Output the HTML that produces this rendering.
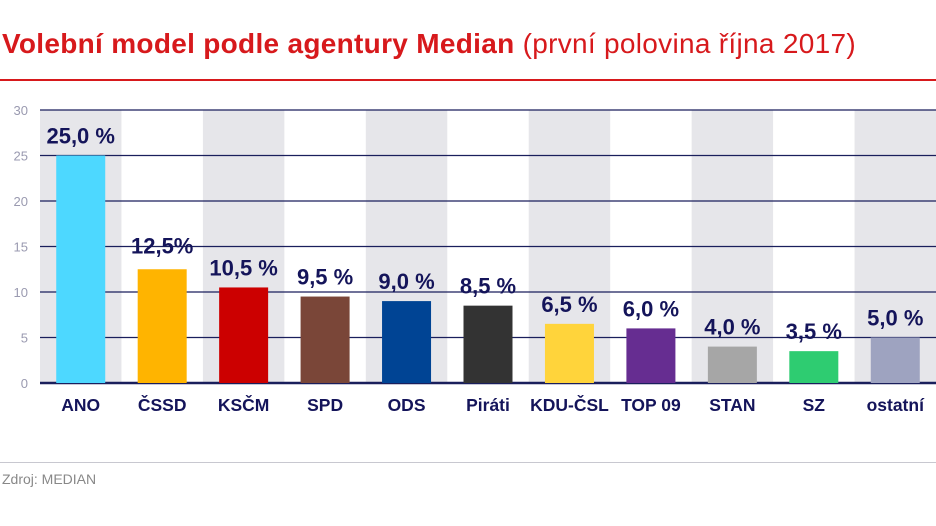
<!DOCTYPE html>
<html><head><meta charset="utf-8"><style>
body{margin:0;width:936px;height:526px;background:#fff;font-family:"Liberation Sans",sans-serif;overflow:hidden;position:relative}
</style></head><body>
<div style="position:absolute;left:2px;top:28px;font-size:28px;color:#d7191c;white-space:nowrap;letter-spacing:0.3px"><b>Volební model podle agentury Median</b> <span style="font-weight:normal">(první polovina října 2017)</span></div>
<div style="position:absolute;left:0;top:79px;width:936px;height:2px;background:#d7191c"></div>
<svg width="936" height="526" style="position:absolute;left:0;top:0" id="c"></svg>
<div style="position:absolute;left:0;top:462px;width:936px;height:1px;background:#c8c8d0"></div>
<div style="position:absolute;left:2px;top:471px;font-size:14px;color:#888">Zdroj: MEDIAN</div>
<script>
const categories=["ANO","ČSSD","KSČM","SPD","ODS","Piráti","KDU-ČSL","TOP 09","STAN","SZ","ostatní"];
const values=[25.0,12.5,10.5,9.5,9.0,8.5,6.5,6.0,4.0,3.5,5.0];
const valueLabels=["25,0 %","12,5%","10,5 %","9,5 %","9,0 %","8,5 %","6,5 %","6,0 %","4,0 %","3,5 %","5,0 %"];
const colors=["#4dd8ff","#ffb400","#cc0000","#7a4638","#004494","#333333","#ffd43b","#662d91","#a6a6a6","#2ecc71","#9ea3c0"];
const yTicks=[0,5,10,15,20,25,30];
const svg=document.getElementById('c');const NS='http://www.w3.org/2000/svg';
const x0=40,x1=936,y0=383,yTop=110,yMax=30;
const bw=(x1-x0)/categories.length;
const y=v=>y0-(v/yMax)*(y0-yTop);
const xc=i=>x0+bw*(i+0.5);
function mk(t,a){const e=document.createElementNS(NS,t);for(const k in a)e.setAttribute(k,a[k]);svg.appendChild(e);return e;}
categories.forEach((c,i)=>{if(i%2==0){const r=mk('rect',{x:x0+bw*i,y:yTop,width:bw,height:y0-yTop,fill:'#e6e6ea'});

}});
yTicks.forEach(t=>{const l=mk('line',{x1:x0,x2:x1,y1:y(t),y2:y(t),stroke:'#1a1f5c','stroke-width':t==0?2.5:1.3});


const tx=mk('text',{x:28,y:y(t)+5,'text-anchor':'end','font-size':13,fill:'#9a9ab0'});tx.textContent=t;

});
categories.forEach((c,i)=>{const w=49;
const r=mk('rect',{x:xc(i)-w/2,y:y(values[i]),width:w,height:y0-y(values[i]),fill:colors[i]});


const v=mk('text',{x:xc(i),y:y(values[i])-(i==1?16:12),'text-anchor':'middle','font-size':22,'font-weight':'bold',fill:'#14145a'});v.textContent=valueLabels[i];


const l=mk('text',{x:xc(i),y:411,'text-anchor':'middle','font-size':17.5,'font-weight':'bold',fill:'#14145a'});l.textContent=c;

});
</script>
</body></html>
